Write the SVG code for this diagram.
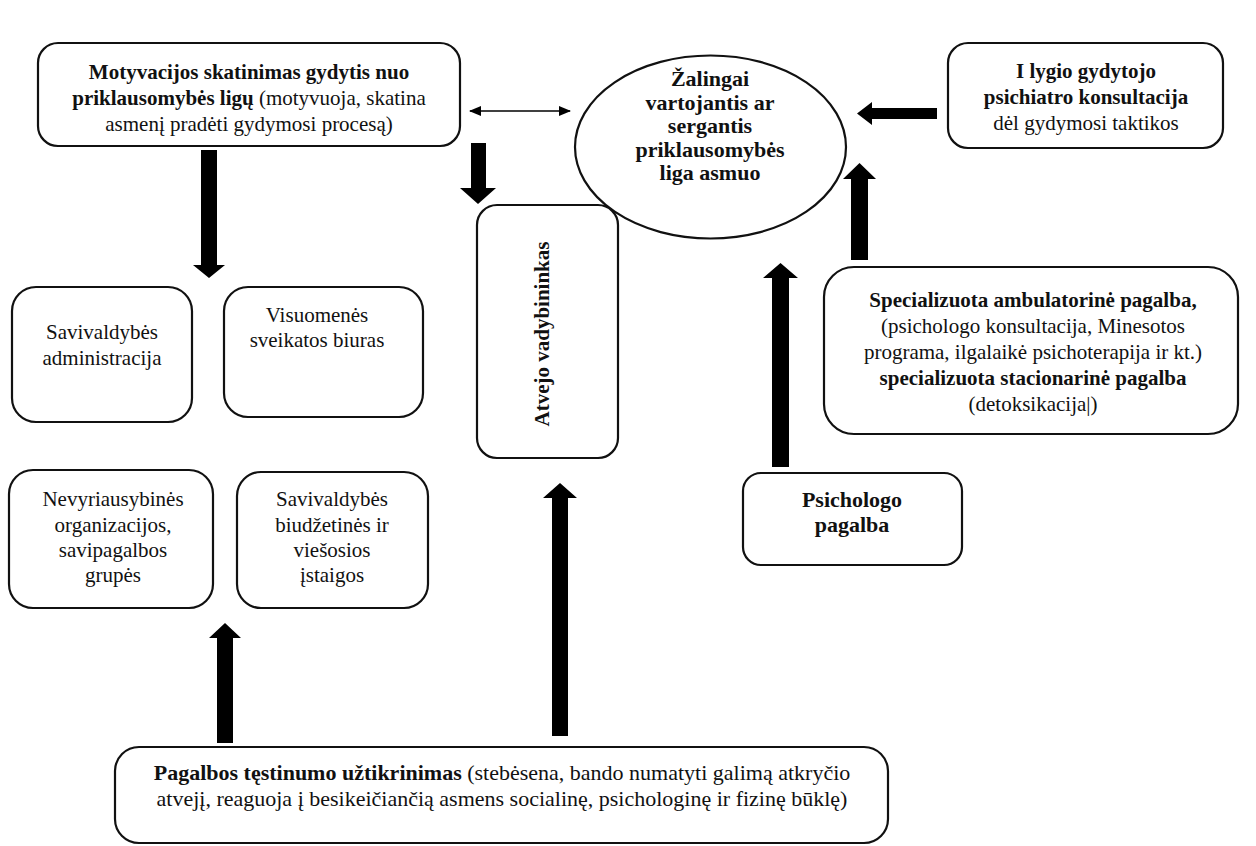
<svg xmlns="http://www.w3.org/2000/svg" width="1256" height="846" viewBox="0 0 1256 846">
<style>
.box{fill:#fff;stroke:#111;stroke-width:2.2}
.t{font-family:"Liberation Serif","Tinos","DejaVu Serif",serif;font-size:21px;fill:#111;text-anchor:middle}
.big{font-size:22px}
.b{font-weight:bold}
.arr{fill:#000}
</style>
<defs>
<marker id="ah" markerWidth="12" markerHeight="10" refX="11" refY="5" orient="auto-start-reverse" markerUnits="userSpaceOnUse">
<path d="M0,0 L12,5 L0,10 Z" fill="#000"/>
</marker>
</defs>
<rect width="1256" height="846" fill="#fff"/>

<g id="connectors">
<line x1="470" y1="111" x2="570" y2="111" stroke="#000" stroke-width="1.3" marker-start="url(#ah)" marker-end="url(#ah)"/>
<polygon class="arr" points="201,150 217,150 217,265 225,265 209,278 193,265 201,265"/>
<polygon class="arr" points="471,143 486,143 486,188 496,188 478,204 460,188 471,188"/>
<polygon class="arr" points="552,736 568,736 568,498 577,498 560,483 543,498 552,498"/>
<polygon class="arr" points="217,743 233,743 233,638 241,638 225,623 209,638 217,638"/>
<polygon class="arr" points="772,467 789,467 789,278 798,278 780.5,263 763,278 772,278"/>
<polygon class="arr" points="851,260 868,260 868,179 876,179 859.5,163 843,179 851,179"/>
<polygon class="arr" points="937,108 937,119 872,119 872,125 857,113.5 872,102 872,108"/>
</g>

<g id="node-motyvacija">
<rect class="box" x="38" y="43" width="422" height="103" rx="20"/>
<text class="t" x="249" y="79"><tspan class="b">Motyvacijos skatinimas gydytis nuo</tspan></text>
<text class="t" x="249" y="105"><tspan class="b">priklausomybės ligų</tspan> (motyvuoja, skatina</text>
<text class="t" x="249" y="131">asmenį pradėti gydymosi procesą)</text>
</g>

<g id="node-asmuo">
<ellipse class="box" cx="710.5" cy="147" rx="135.5" ry="91.5"/>
<text class="t b big" x="710" y="86">Žalingai</text>
<text class="t b big" x="710" y="109.5">vartojantis ar</text>
<text class="t b big" x="710" y="133">sergantis</text>
<text class="t b big" x="710" y="156.5">priklausomybės</text>
<text class="t b big" x="710" y="180">liga asmuo</text>
</g>

<g id="node-psichiatras">
<rect class="box" x="948" y="43" width="275" height="105" rx="20"/>
<text class="t b" x="1086" y="78">I lygio gydytojo</text>
<text class="t b" x="1086" y="104">psichiatro konsultacija</text>
<text class="t" x="1086" y="130">dėl gydymosi taktikos</text>
</g>

<g id="node-savivaldybe-admin">
<rect class="box" x="12" y="287" width="180" height="135" rx="24"/>
<text class="t" x="102" y="339">Savivaldybės</text>
<text class="t" x="102" y="365">administracija</text>
</g>

<g id="node-visuomenes">
<rect class="box" x="224" y="287" width="199" height="130" rx="24"/>
<text class="t" x="317" y="322">Visuomenės</text>
<text class="t" x="317" y="347">sveikatos biuras</text>
</g>

<g id="node-atvejo">
<rect class="box" x="477" y="205" width="141" height="253" rx="20"/>
<text class="t b" x="0" y="0" transform="translate(549,334) rotate(-90)">Atvejo vadybininkas</text>
</g>

<g id="node-nevyriausybines">
<rect class="box" x="9" y="470" width="204" height="138" rx="24"/>
<text class="t" x="113" y="506">Nevyriausybinės</text>
<text class="t" x="113" y="532">organizacijos,</text>
<text class="t" x="113" y="557">savipagalbos</text>
<text class="t" x="113" y="582">grupės</text>
</g>

<g id="node-biudzetines">
<rect class="box" x="237" y="472" width="191" height="136" rx="24"/>
<text class="t" x="332" y="506">Savivaldybės</text>
<text class="t" x="332" y="532">biudžetinės ir</text>
<text class="t" x="332" y="557">viešosios</text>
<text class="t" x="332" y="582">įstaigos</text>
</g>

<g id="node-specializuota">
<rect class="box" x="824" y="267" width="414" height="167" rx="30"/>
<text class="t b" x="1033" y="307">Specializuota ambulatorinė pagalba,</text>
<text class="t" x="1033" y="333">(psichologo konsultacija, Minesotos</text>
<text class="t" x="1033" y="359">programa, ilgalaikė psichoterapija ir kt.)</text>
<text class="t b" x="1033" y="385">specializuota stacionarinė pagalba</text>
<text class="t" x="1033" y="411">(detoksikacija|)</text>
</g>

<g id="node-psichologo">
<rect class="box" x="743" y="473" width="219" height="92" rx="18"/>
<text class="t b big" x="852" y="507">Psichologo</text>
<text class="t b big" x="852" y="532">pagalba</text>
</g>

<g id="node-testinumas">
<rect class="box" x="115" y="747" width="773" height="96" rx="24"/>
<text class="t big" x="502" y="780"><tspan class="b">Pagalbos tęstinumo užtikrinimas</tspan> (stebėsena, bando numatyti galimą atkryčio</text>
<text class="t big" x="502" y="806">atvejį, reaguoja į besikeičiančią asmens socialinę, psichologinę ir fizinę būklę)</text>
</g>
</svg>
